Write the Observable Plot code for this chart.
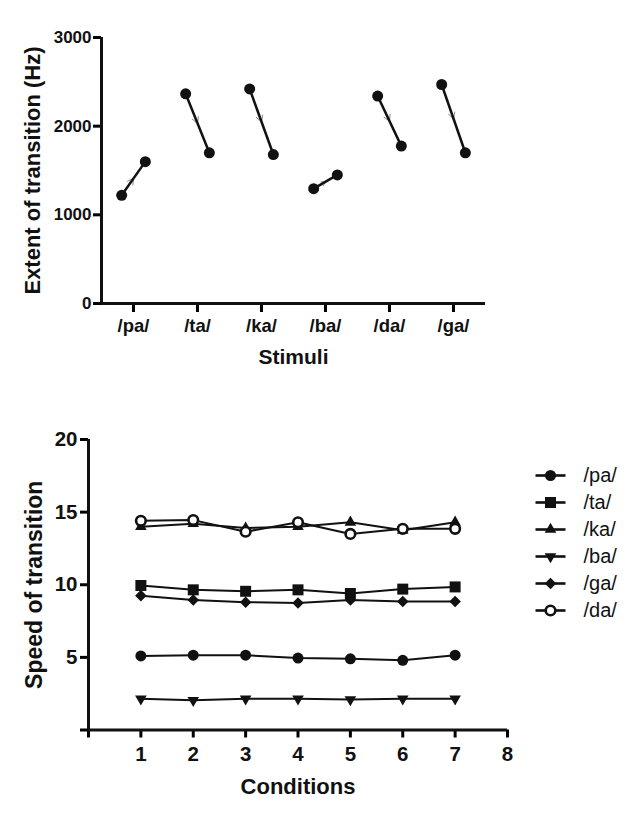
<!DOCTYPE html>
<html>
<head>
<meta charset="utf-8">
<script src="https://cdn.jsdelivr.net/npm/d3@7"></script>
<script src="https://cdn.jsdelivr.net/npm/@observablehq/plot@0.6"></script>
<style>
  html, body { margin: 0; padding: 0; background: #fff; }
  #page { position: relative; width: 641px; height: 820px; background: #fff; overflow: hidden; }
  #page > svg, #page > figure { position: absolute; margin: 0; }
  #page g[aria-label$="tick label"] { font-weight: bold; fill: #111; }
  #panelA g[aria-label="y-axis tick label"] { font-size: 17px; }
  #panelA g[aria-label="x-axis tick label"] { font-size: 18.5px; }
  #panelB g[aria-label$="tick label"] { font-size: 20.5px; }
</style>
</head>
<body>
<div id="page"></div>
<script>
// Panel A: extent of the formant transition for each stimulus (start and end points)
const stimuli = ["/pa/", "/ta/", "/ka/", "/ba/", "/da/", "/ga/"];
const startHz = [1220, 2365, 2420, 1295, 2340, 2470];
const endHz = [1600, 1700, 1680, 1450, 1775, 1700];
const extentTicks = [0, 1000, 2000, 3000];

// Panel B: speed of transition across conditions
const conditions = [1, 2, 3, 4, 5, 6, 7];
const conditionTicks = [0, 1, 2, 3, 4, 5, 6, 7, 8];
const speedTicks = [0, 5, 10, 15, 20];
const seriesNames = ["/pa/", "/ta/", "/ka/", "/ba/", "/ga/", "/da/"];
const speedPa = [5.1, 5.15, 5.15, 4.95, 4.9, 4.8, 5.15];
const speedTa = [9.95, 9.65, 9.55, 9.65, 9.4, 9.7, 9.85];
const speedKa = [14.0, 14.2, 13.9, 14.0, 14.3, 13.75, 14.3];
const speedBa = [2.15, 2.05, 2.15, 2.15, 2.1, 2.15, 2.15];
const speedGa = [9.25, 8.95, 8.8, 8.75, 8.95, 8.85, 8.85];
const speedDa = [14.4, 14.45, 13.65, 14.3, 13.5, 13.85, 13.85];

const font = "'Liberation Sans', Arial, Helvetica, sans-serif";
const page = document.getElementById("page");

// ---------- Panel A ----------
const half = 0.185; // horizontal offset of start/end points within each stimulus slot
const pairs = stimuli.map((s, i) => ({i, s, y1: startHz[i], y2: endHz[i]}));
const ends = pairs.flatMap(d => [{x: d.i - half, y: d.y1}, {x: d.i + half, y: d.y2}]);

const panelA = Plot.plot({
  width: 500,
  height: 380,
  marginLeft: 101,
  marginRight: 15,
  marginTop: 37,
  marginBottom: 77,
  style: {fontFamily: font, background: "transparent", overflow: "visible"},
  x: {domain: [-0.5, 5.5]},
  y: {domain: [0, 3000]},
  marks: [
    Plot.axisY(extentTicks, {tickSize: 8, tickPadding: 2, strokeWidth: 3, fontSize: 17, fontWeight: "bold", fill: "#111", tickFormat: d => String(d), label: null}),
    Plot.axisX([0, 1, 2, 3, 4, 5], {tickSize: 9, tickPadding: 6, strokeWidth: 3, fontSize: 18.5, fontWeight: "bold", fill: "#111", tickFormat: i => stimuli[i], label: null}),
    Plot.ruleX([-0.5], {stroke: "#111", strokeWidth: 3}),
    Plot.ruleY([0], {stroke: "#111", strokeWidth: 3}),
    // faint direction marks along each segment
    Plot.arrow(pairs, {
      x1: d => d.i - half, y1: "y1",
      x2: d => d.i, y2: d => (d.y1 + d.y2) / 2,
      stroke: "#8a8a8a", strokeWidth: 1, headLength: 10, headAngle: 60
    }),
    Plot.link(pairs, {x1: d => d.i - half, y1: "y1", x2: d => d.i + half, y2: "y2", stroke: "#111", strokeWidth: 2.5}),
    Plot.dot(ends, {x: "x", y: "y", r: 5.5, fill: "#111", stroke: "none"}),
    Plot.text(["Extent of transition (Hz)"], {frameAnchor: "left", dx: -69, rotate: -90, fontSize: 22, fontWeight: "bold", fill: "#111", textAnchor: "middle", lineAnchor: "middle"}),
    Plot.text(["Stimuli"], {frameAnchor: "bottom", dy: 60, fontSize: 21, fontWeight: "bold", fill: "#111", lineAnchor: "bottom"})
  ]
});
panelA.id = "panelA";
panelA.style.left = "0px";
panelA.style.top = "0px";
page.appendChild(panelA);

// ---------- Panel B ----------
const speeds = [speedPa, speedTa, speedKa, speedBa, speedGa, speedDa];
const rows = seriesNames.flatMap((name, k) => conditions.map((c, j) => ({series: name, condition: c, speed: speeds[k][j]})));

// marker style for each series
const markerStyle = {
  "/pa/": {symbol: "circle", r: 5.5, fill: "#111", stroke: "none", strokeWidth: 0, rotate: 0},
  "/ta/": {symbol: "square", r: 6.2, fill: "#111", stroke: "none", strokeWidth: 0, rotate: 0},
  "/ka/": {symbol: "triangle", r: 4.3, fill: "#111", stroke: "none", strokeWidth: 0, rotate: 0},
  "/ba/": {symbol: "triangle", r: 4.3, fill: "#111", stroke: "none", strokeWidth: 0, rotate: 180},
  "/ga/": {symbol: "diamond2", r: 5.2, fill: "#111", stroke: "none", strokeWidth: 0, rotate: 0},
  "/da/": {symbol: "circle", r: 4.8, fill: "#fff", stroke: "#111", strokeWidth: 2.6, rotate: 0}
};

const seriesMarks = seriesNames.flatMap(name => {
  const data = rows.filter(d => d.series === name);
  const m = markerStyle[name];
  return [
    Plot.line(data, {x: "condition", y: "speed", stroke: "#111", strokeWidth: 2}),
    Plot.dot(data, {x: "condition", y: "speed", symbol: m.symbol, r: m.r, fill: m.fill, stroke: m.stroke, strokeWidth: m.strokeWidth, rotate: m.rotate})
  ];
});

const panelB = Plot.plot({
  width: 520,
  height: 420,
  marginLeft: 88,
  marginRight: 13,
  marginTop: 39,
  marginBottom: 90.5,
  style: {fontFamily: font, background: "transparent", overflow: "visible"},
  x: {domain: [0, 8]},
  y: {domain: [0, 20]},
  marks: [
    Plot.axisY(speedTicks, {tickSize: 8, tickPadding: 3, strokeWidth: 3, fontSize: 20.5, fontWeight: "bold", fill: "#111", tickFormat: d => d === 0 ? "" : String(d), label: null}),
    Plot.axisX(conditionTicks, {tickSize: 8, tickPadding: 8, strokeWidth: 3, fontSize: 20.5, fontWeight: "bold", fill: "#111", tickFormat: d => d === 0 ? "" : String(d), label: null}),
    Plot.ruleX([0], {stroke: "#111", strokeWidth: 3}),
    Plot.ruleY([0], {stroke: "#111", strokeWidth: 3}),
    ...seriesMarks,
    Plot.text(["Speed of transition"], {frameAnchor: "left", dx: -54, rotate: -90, fontSize: 23, fontWeight: "bold", fill: "#111", textAnchor: "middle", lineAnchor: "middle"}),
    Plot.text(["Conditions"], {frameAnchor: "bottom", dy: 63.5, fontSize: 22, fontWeight: "bold", fill: "#111", lineAnchor: "bottom"})
  ]
});
panelB.id = "panelB";
panelB.style.left = "0px";
panelB.style.top = "400px";
page.appendChild(panelB);

// ---------- Legend for panel B ----------
const legendRows = seriesNames.map(name => ({series: name}));
const legendMarks = seriesNames.map(name => {
  const m = markerStyle[name];
  return Plot.dot([{series: name}], {x: () => 0.5, y: "series", symbol: m.symbol, r: m.r, fill: m.fill, stroke: m.stroke, strokeWidth: m.strokeWidth, rotate: m.rotate});
});

const legend = Plot.plot({
  width: 121,
  height: 210,
  margin: 0,
  style: {fontFamily: font, background: "transparent", overflow: "visible"},
  x: {domain: [0, 1], range: [15, 45], axis: null},
  y: {type: "point", domain: seriesNames, range: [19, 185], axis: null},
  marks: [
    Plot.link(legendRows, {x1: () => 0, x2: () => 1, y1: "series", y2: "series", stroke: "#111", strokeWidth: 2.6}),
    ...legendMarks,
    Plot.text(legendRows, {x: () => 1, y: "series", text: "series", dx: 18, textAnchor: "start", lineAnchor: "middle", fontSize: 20, fill: "#111"})
  ]
});
legend.style.left = "520px";
legend.style.top = "440px";
page.appendChild(legend);
</script>
</body>
</html>
